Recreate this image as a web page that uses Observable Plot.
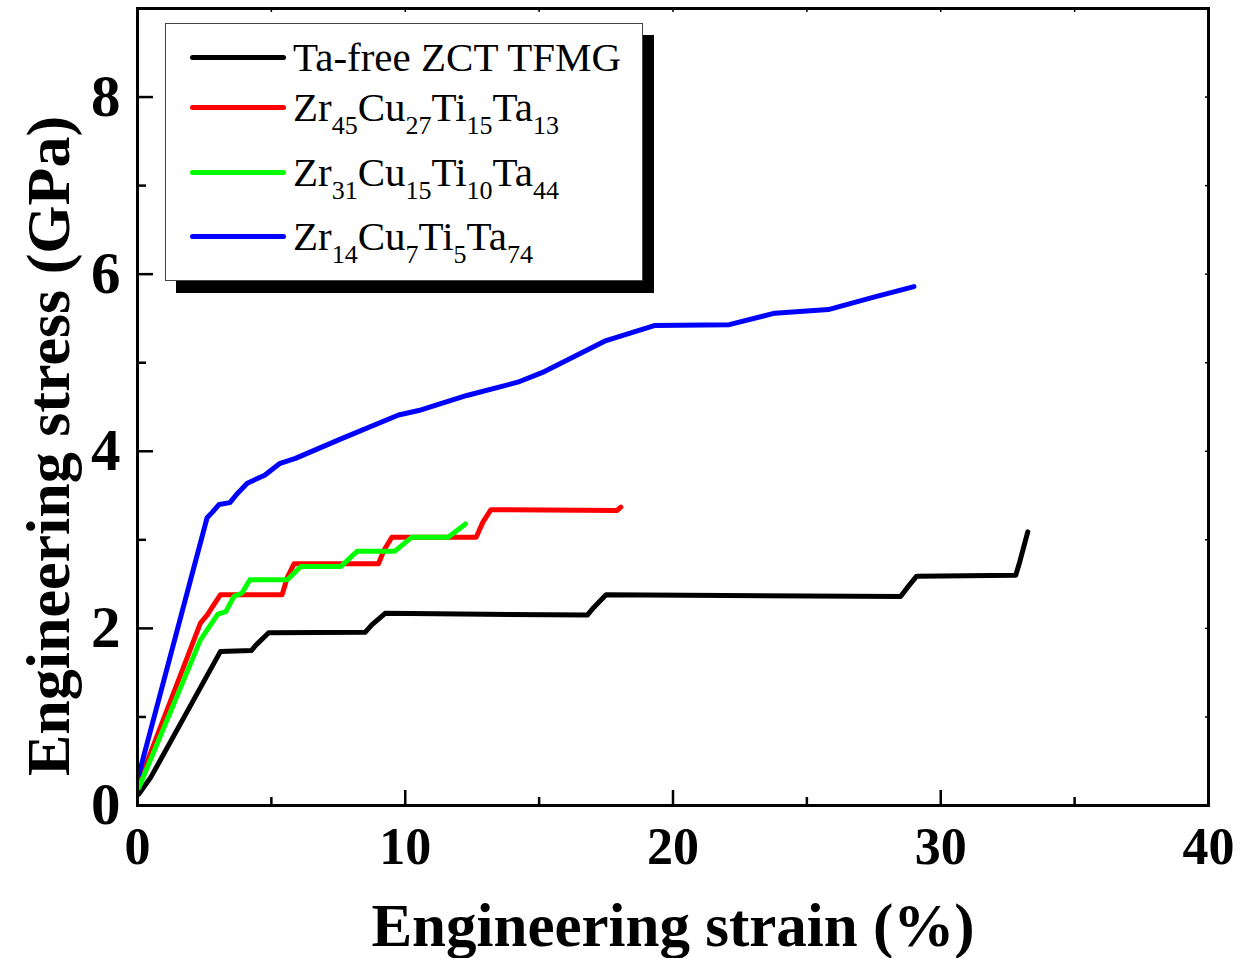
<!DOCTYPE html>
<html>
<head>
<meta charset="utf-8">
<script src="https://cdn.jsdelivr.net/npm/d3@7"></script>
<script src="https://cdn.jsdelivr.net/npm/@observablehq/plot@0.6"></script>
<style>
  html, body { margin: 0; padding: 0; background: #fff; }
  #wrap { position: relative; width: 1245px; height: 958px; }
  #legend {
    position: absolute; left: 165px; top: 23px; width: 476px; height: 256px;
    border: 1.5px solid #444; background: #fff; box-shadow: 11px 12px 0 #000;
    font-family: "Liberation Serif", "Times New Roman", serif; font-size: 41px; color: #000;
  }
  .row { position: absolute; left: 127px; line-height: 41px; white-space: nowrap; }
  .row sub { font-size: 26px; vertical-align: -0.5em; line-height: 0; }
  .swatch { position: absolute; left: 24px; width: 96px; height: 5px; border-radius: 3px; }
</style>
</head>
<body>
<div id="wrap"></div>
<script>
// ---- data ----
const seriesNames = ["Ta-free ZCT TFMG", "Zr45Cu27Ti15Ta13", "Zr31Cu15Ti10Ta44", "Zr14Cu7Ti5Ta74"];
const seriesColors = ["#000000", "#ff0000", "#00ff00", "#0000ff"];

const strainBlack = [0.05, 0.5, 3.1, 4.25, 4.45, 4.9, 8.5, 8.75, 9.25, 16.8, 17.05, 17.5, 28.5, 28.75, 29.1, 32.8, 32.95, 33.25];
const stressBlack = [0.13, 0.32, 1.74, 1.75, 1.82, 1.95, 1.955, 2.04, 2.17, 2.15, 2.24, 2.38, 2.36, 2.46, 2.59, 2.60, 2.75, 3.09];

const strainRed = [0.05, 2.35, 2.6, 2.75, 3.1, 5.4, 5.6, 5.85, 9.0, 9.2, 9.5, 12.65, 12.9, 13.2, 17.9, 18.05];
const stressRed = [0.25, 2.06, 2.15, 2.22, 2.38, 2.38, 2.58, 2.73, 2.73, 2.88, 3.03, 3.03, 3.2, 3.34, 3.33, 3.37];

const strainGreen = [0.05, 2.35, 3.0, 3.3, 3.6, 3.9, 4.2, 5.6, 6.1, 7.6, 8.2, 9.6, 10.25, 11.6, 12.25];
const stressGreen = [0.2, 1.87, 2.16, 2.19, 2.36, 2.40, 2.55, 2.55, 2.70, 2.70, 2.87, 2.87, 3.03, 3.03, 3.18];

const strainBlue = [0.05, 2.6, 2.79, 3.05, 3.45, 3.75, 4.1, 4.75, 5.3, 5.9, 7.6, 9.75, 10.5, 12.3, 14.2, 15.2, 17.5, 19.3, 22.1, 23.8, 25.8, 27.5, 29.0];
const stressBlue = [0.35, 3.25, 3.31, 3.40, 3.42, 3.53, 3.64, 3.73, 3.86, 3.92, 4.14, 4.41, 4.46, 4.63, 4.78, 4.90, 5.25, 5.42, 5.43, 5.56, 5.60, 5.74, 5.86];

const xTickLabels = [0, 10, 20, 30, 40];
const xMinorTicks = [5, 15, 25, 35];
const xTopTicks = [5, 10, 15, 20, 25, 30, 35];
const yTickLabels = [0, 2, 4, 6, 8];
const yMinorTicks = [1, 3, 5, 7];
const yRightTicks = [1, 2, 3, 4, 5, 6, 7, 8];

const xTitle = "Engineering strain (%)";
const yTitle = "Engineering stress (GPa)";

// ---- build table ----
const allX = [strainBlack, strainRed, strainGreen, strainBlue];
const allY = [stressBlack, stressRed, stressGreen, stressBlue];
const rows = [];
allX.forEach((xs, s) => xs.forEach((x, i) => rows.push({series: seriesNames[s], strain: x, stress: allY[s][i]})));

const W = 1245, H = 958, mL = 137, mR = 37, mT = 8, mB = 153;
const plotW = W - mL - mR, plotH = H - mT - mB;
const serif = "'Liberation Serif', 'Times New Roman', serif";

const chart = Plot.plot({
  width: W, height: H,
  marginLeft: mL, marginRight: mR, marginTop: mT, marginBottom: mB,
  x: {domain: [0, 40]},
  y: {domain: [0, 9]},
  color: {domain: seriesNames, range: seriesColors},
  style: {fontFamily: serif, background: "white", color: "black"},
  marks: [
    // lines
    Plot.line(rows, {x: "strain", y: "stress", z: "series", stroke: "series",
      strokeWidth: 5, strokeLinecap: "round", strokeLinejoin: "round"}),
    // inward ticks
    Plot.tickX(xTickLabels, {x: d => d, insetTop: plotH - 15, stroke: "black", strokeWidth: 2.5}),
    Plot.tickX(xMinorTicks, {x: d => d, insetTop: plotH - 8, stroke: "black", strokeWidth: 2.5}),
    Plot.tickX(xTopTicks, {x: d => d, insetBottom: plotH - 4, stroke: "black", strokeWidth: 1.5}),
    Plot.tickY(yTickLabels, {y: d => d, insetRight: plotW - 16, stroke: "black", strokeWidth: 2.5}),
    Plot.tickY(yMinorTicks, {y: d => d, insetRight: plotW - 9, stroke: "black", strokeWidth: 2.5}),
    Plot.tickY(yRightTicks, {y: d => d, insetLeft: plotW - 3, stroke: "black", strokeWidth: 1.5}),
    // frame
    Plot.frame({stroke: "black", strokeWidth: 3}),
    // tick labels
    Plot.axisX(xTickLabels, {tickSize: 0, tickPadding: 22, fontSize: 52, fontWeight: "bold", label: null, tickFormat: d => String(d)}),
    Plot.axisY(yTickLabels, {tickSize: 0, tickPadding: 17, fontSize: 59, fontWeight: "bold", label: null, tickFormat: d => String(d)}),
    // titles
    Plot.text([xTitle], {text: d => d, frameAnchor: "bottom", textAnchor: "middle", lineAnchor: "bottom", dy: 140,
      fontSize: 61, fontWeight: "bold", fill: "black"}),
    Plot.text([yTitle], {text: d => d, frameAnchor: "left", textAnchor: "middle", lineAnchor: "bottom", rotate: -90,
      dx: -69, dy: 39, fontSize: 62, fontWeight: "bold", fill: "black"})
  ]
});

const wrap = document.getElementById("wrap");
wrap.appendChild(chart);

// ---- legend (overlay) ----
const legendHtml = [
  "Ta-free ZCT TFMG",
  "Zr<sub>45</sub>Cu<sub>27</sub>Ti<sub>15</sub>Ta<sub>13</sub>",
  "Zr<sub>31</sub>Cu<sub>15</sub>Ti<sub>10</sub>Ta<sub>44</sub>",
  "Zr<sub>14</sub>Cu<sub>7</sub>Ti<sub>5</sub>Ta<sub>74</sub>"
];
const lineCenters = [58, 108, 173, 237];  // page y of legend sample lines
const baselines = [72, 122, 187, 251];
const legend = document.createElement("div");
legend.id = "legend";
const boxTop = 23 + 1.5;
seriesNames.forEach((name, i) => {
  const sw = document.createElement("div");
  sw.className = "swatch";
  sw.style.background = seriesColors[i];
  sw.style.top = (lineCenters[i] - 2.5 - boxTop) + "px";
  legend.appendChild(sw);
  const r = document.createElement("div");
  r.className = "row";
  r.innerHTML = legendHtml[i];
  r.style.top = (baselines[i] - 34.3 - boxTop) + "px";
  legend.appendChild(r);
});
wrap.appendChild(legend);
</script>
</body>
</html>
